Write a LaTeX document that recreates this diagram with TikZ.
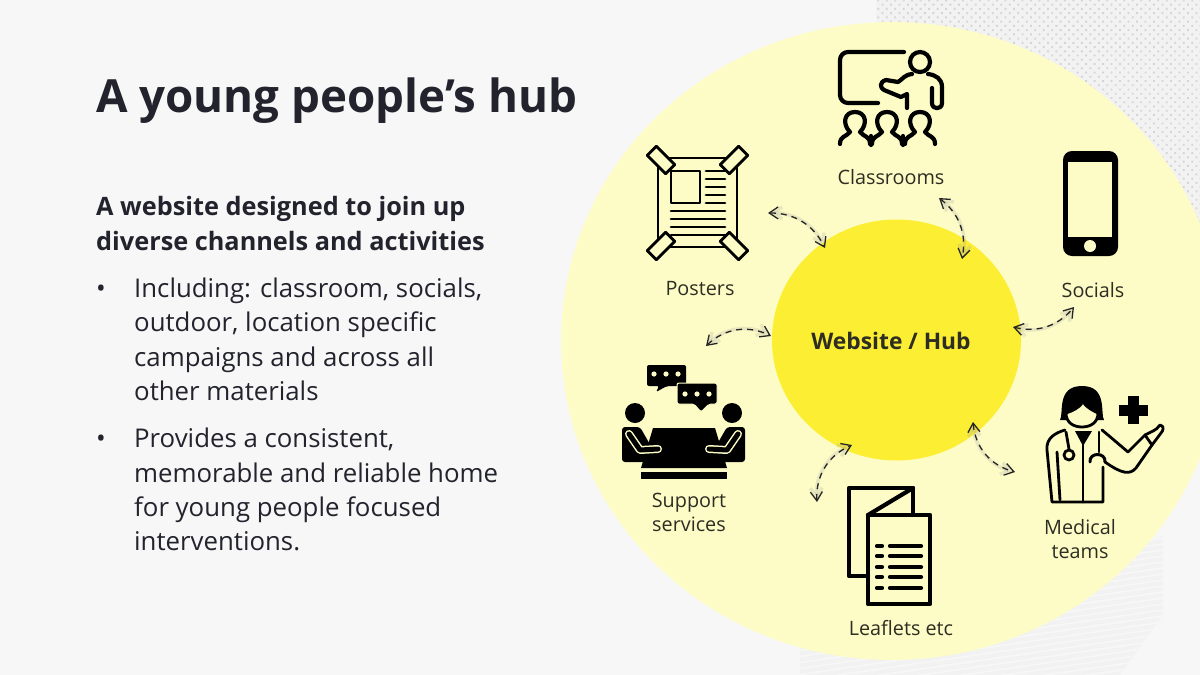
\documentclass[tikz,border=0pt]{standalone}
\usepackage{fontspec}
\usepackage{tikz}
\setmainfont{Open Sans}
\usetikzlibrary{arrows.meta, patterns.meta, shapes.geometric}
\definecolor{slidegray}{RGB}{247,247,248}
\definecolor{paleyellow}{RGB}{253,252,198}
\definecolor{hubyellow}{RGB}{252,238,50}
\definecolor{titleink}{RGB}{35,35,45}
\definecolor{labelink}{RGB}{45,45,35}

\begin{document}
\begin{tikzpicture}[
    x=1pt,
    y=-1pt,
    title text/.style={anchor=base west,inner sep=0pt,text=titleink,font=\fontsize{45.7}{46}\selectfont\bfseries},
    lead text/.style={anchor=base west,inner sep=0pt,text=titleink,font=\fontsize{25.3}{35}\selectfont\bfseries},
    body text/.style={anchor=base west,inner sep=0pt,text=titleink,font=\fontsize{25.8}{34.4}\selectfont},
    item label/.style={anchor=base,inner sep=0pt,align=center,text=labelink,font=\fontsize{19.8}{24}\selectfont},
    iconline/.style={draw=black,line width=4.2pt,line cap=round,line join=round},
    thinline/.style={draw=black,line width=2.8pt,line cap=round,line join=round},
    hublink/.style={{Straight Barb[length=9pt,width=12pt]}-{Straight Barb[length=9pt,width=12pt]},draw=black!85,line width=1.3pt,dash pattern=on 6pt off 5pt,
        preaction={draw=black!35,opacity=.25,line width=3.5pt,dash pattern=on 1pt off 0pt,shorten >=2pt,shorten <=2pt}}
]
\useasboundingbox (0,0) rectangle (1200,675);

% Background and textures
\fill[slidegray] (0,0) rectangle (1200,675);
\fill[black!5] (876,0) -- (1200,0) -- (1200,262) -- (1000,100) -- (876,30) -- cycle;
\fill[pattern={Dots[distance=6pt,radius=1.3pt,angle=45]},pattern color=black!17] (876,0) -- (1200,0) -- (1200,262) -- (1000,100) -- (876,30) -- cycle;
\begin{scope}
\clip (800,675) -- (800,640) -- (1040,600) -- (1163,535) -- (1163,615) -- (1120,675) -- cycle;
\fill[black!5] (780,520) rectangle (1180,675);
\foreach \sy in {520,526,...,800}
    \draw[slidegray,line width=1.6pt] (790,\sy) -- (1170,\sy-55);
\end{scope}

% Circles
\node[ellipse,fill=paleyellow,minimum width=662pt,minimum height=638pt,inner sep=0pt] (field) at (892,341) {};
\node[ellipse,fill=hubyellow,minimum width=249pt,minimum height=241pt,inner sep=0pt] (hub) at (896.5,340) {};
\node[anchor=base,inner sep=0pt,text=labelink,font=\fontsize{22.8}{24}\selectfont\bfseries] (hubtext) at (891,349) {Website / Hub};

% Title and text
\node[title text] (title) at (96,112) {A young people’s hub};
\node[lead text] (lead1) at (96,215) {A website designed to join up};
\node[lead text] (lead2) at (96,250) {diverse channels and activities};
\node[body text] (dot1) at (96,297) {•};
\node[body text] (line1) at (134,297) {Including: classroom, socials,};
\node[body text] (line2) at (134,331) {outdoor, location specific};
\node[body text] (line3) at (134,366) {campaigns and across all};
\node[body text] (line4) at (134,400) {other materials};
\node[body text] (dot2) at (96,447) {•};
\node[body text] (line5) at (134,447) {Provides a consistent,};
\node[body text] (line6) at (134,482) {memorable and reliable home};
\node[body text] (line7) at (134,516) {for young people focused};
\node[body text] (line8) at (134,550) {interventions.};

% Labels
\node[item label] (classrooms) at (891,184) {Classrooms};
\node[item label] (posters) at (700,295) {Posters};
\node[item label] (socials) at (1093,297) {Socials};
\node[item label] (support1) at (689,507) {Support};
\node[item label] (support2) at (689,531) {services};
\node[item label] (medical1) at (1080,534) {Medical};
\node[item label] (medical2) at (1080,558) {teams};
\node[item label] (leaflets) at (901,635) {Leaflets etc};

% Classroom icon
\draw[iconline] (904,52) -- (848,52) to[out=180,in=90] (840,60) -- (840,95) to[out=-90,in=180] (848,103) -- (878,103);
\draw[iconline] (920,62) circle (10);
\draw[iconline] (912,74) .. controls (904,75) and (903,79) .. (898,82) -- (886,80) .. controls (879,82) and (880,88) .. (884,90) -- (901,97) -- (907,94) -- (907,108);
\draw[iconline] (928,74) .. controls (936,75) and (942,79) .. (942,87) -- (942,103) .. controls (942,110) and (932,110) .. (932,103) -- (932,88);
\foreach \sx in {855,887,920}
    \draw[iconline] (\sx-15,144) .. controls (\sx-15,136) and (\sx-9,137) .. (\sx-5,132) .. controls (\sx-13,124) and (\sx-11,112) .. (\sx,112) .. controls (\sx+11,112) and (\sx+13,124) .. (\sx+5,132) .. controls (\sx+9,137) and (\sx+15,136) .. (\sx+15,144);
\draw[iconline] (871,136) -- (871,145);
\draw[iconline] (903,136) -- (903,145);

% Poster icon
\draw[thinline] (658,158) rectangle (737,247);
\draw[thinline] (671,171) rectangle (700,203);
\foreach \ly in {171,179,187,195,203}
    \draw[thinline] (706,\ly) -- (725,\ly);
\foreach \ly in {211,219,227,235}
    \draw[thinline] (671,\ly) -- (725,\ly);
\foreach \tx/\ty/\tr in {661/160/-45,734/160/45,661/246/45,734/246/-45}
    \draw[thinline,fill=paleyellow,shift={(\tx,\ty)},rotate=\tr] (-13,-6.5) rectangle (13,6.5);

% Phone icon
\fill[black,rounded corners=9pt] (1063,151) rectangle (1118,256);
\fill[paleyellow] (1068,162) rectangle (1112,237);
\fill[paleyellow] (1090,246) circle (6);

% Support services icon
\fill[black,rounded corners=2pt] (647,365) -- (686,365) -- (686,386) -- (667,386) -- (656,392) -- (659,386) -- (647,386) -- cycle;
\draw[paleyellow,line width=1pt,fill=black,rounded corners=2pt] (677,383) -- (717,383) -- (717,404) -- (709,404) -- (701,412) -- (694,404) -- (677,404) -- cycle;
\foreach \dx/\dy in {654/374,666/374,678/374,685/394,697/394,709/394}
    \fill[paleyellow] (\dx,\dy) circle (2.6);
\fill[black] (635,413) circle (10);
\fill[black] (732,413) circle (10);
\fill[black,rounded corners=3pt] (622,462) -- (622,427) -- (640,427) -- (660,462) -- cycle;
\fill[black,rounded corners=3pt] (745,462) -- (745,427) -- (727,427) -- (707,462) -- cycle;
\fill[black] (653,428) -- (715,428) -- (727,468) -- (641,468) -- cycle;
\fill[black] (641,472) rectangle (727,479);
\draw[draw=paleyellow,double=black,double distance=5pt,line width=1.5pt,line cap=round,line join=round] (629,434) -- (640,450) -- (658,449);
\draw[draw=paleyellow,double=black,double distance=5pt,line width=1.5pt,line cap=round,line join=round] (738,434) -- (727,450) -- (709,449);

% Leaflet icon
\draw[iconline] (868,576) -- (849,576) -- (849,488) -- (913,488) -- (913,515);
\draw[iconline] (913,488) -- (868,515);
\draw[iconline] (868,515) rectangle (930,604);
\foreach \ly in {546,556,567,577,588} {
    \draw[iconline] (877,\ly) -- (882,\ly);
    \draw[iconline] (890,\ly) -- (921,\ly);
}

% Medical team icon
\fill[black] (1060,420) .. controls (1064,414) and (1056,386) .. (1082,386) .. controls (1108,386) and (1100,414) .. (1104,420) -- cycle;
\draw[thinline,fill=paleyellow] (1066,413) .. controls (1072,411) and (1079,408) .. (1083,402) .. controls (1087,408) and (1094,411) .. (1098,413) .. controls (1098,423) and (1090,427) .. (1082,427) .. controls (1074,427) and (1066,423) .. (1066,413) -- cycle;
\draw[black,line width=11pt] (1119,410) -- (1148,410);
\draw[black,line width=11pt] (1133.5,396) -- (1133.5,424);
\draw[thinline] (1065,430) .. controls (1055,433) and (1046,438) .. (1047,450) -- (1052,502) -- (1103,502) -- (1103,467);
\draw[thinline] (1102,430) -- (1108,435) -- (1128,452) -- (1145,435) .. controls (1150,432) and (1156,431) .. (1160,425) .. controls (1165,426) and (1163,431) .. (1161,433) -- (1152,445) -- (1136,468) .. controls (1130,475) and (1122,474) .. (1105,462);
\draw[thinline] (1145,435) -- (1152,445);
\draw[thinline] (1083,445) -- (1083,502);
\draw[thinline] (1057,452) -- (1060,500);
\fill[black] (1075,431) -- (1092,431) -- (1083,446) -- cycle;
\draw[thinline] (1066,432) -- (1069,449);
\draw[thinline] (1069,455) circle (5);
\draw[thinline] (1099,432) -- (1099,452);
\draw[black,line width=3pt,line cap=round] (1090,462) .. controls (1089,452) and (1106,452) .. (1105,462);

% Connectors
\coordinate (posterout) at (768,213);
\coordinate (posterin) at (825,248);
\coordinate (classout) at (939,198);
\coordinate (classin) at (962,259);
\coordinate (socialout) at (1074,307);
\coordinate (socialin) at (1013,327);
\coordinate (medout) at (1015,472);
\coordinate (medin) at (973,422);
\coordinate (leafout) at (817,502);
\coordinate (leafin) at (852,445);
\coordinate (supportout) at (706,346);
\coordinate (supportin) at (771,336);

\draw[hublink] (posterout) to[bend left=32] (posterin);
\draw[hublink] (classout) to[bend left=32] (classin);
\draw[hublink] (socialin) to[bend right=32] (socialout);
\draw[hublink] (medin) to[bend right=35] (medout);
\draw[hublink] (leafout) to[bend left=35] (leafin);
\draw[hublink] (supportout) to[bend left=35] (supportin);

\end{tikzpicture}
\end{document}
